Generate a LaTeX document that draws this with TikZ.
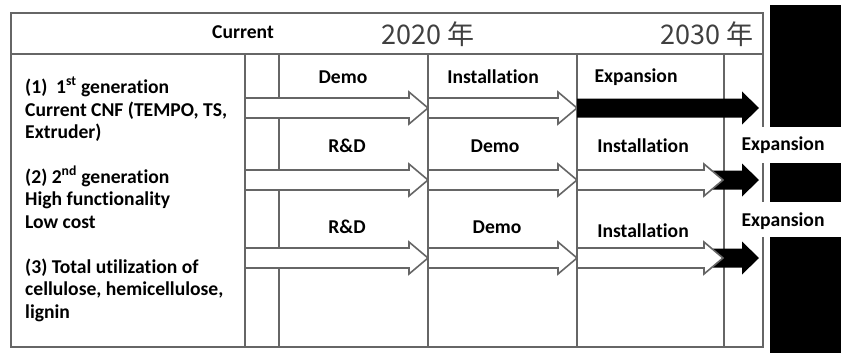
\documentclass[tikz,border=0pt]{standalone}
\usepackage{fontspec}
\setmainfont[Ligatures=NoCommon]{Carlito}
\newfontfamily\yearfont{Noto Sans CJK JP}

\tikzset{
  grid/.style={draw=black!60, line width=1.6pt},
  hollow/.style={draw=black!60, line width=1.6pt, fill=white, line join=miter},
  solid/.style={fill=black, draw=none},
  lbl/.style={font=\bfseries\fontsize{19.6}{22.5}\selectfont, inner sep=0pt},
  desc/.style={font=\bfseries\fontsize{19.6}{22.5}\selectfont, inner sep=0pt, anchor=base west},
  year/.style={font=\yearfont\fontsize{27}{30}\selectfont, text=black!75, inner sep=0pt},
  gap/.style={fill=white, draw=none},
}

% hollow arrow: start x, tip x, centre y
\newcommand{\hollowarr}[3]{%
  \draw[hollow] (#1,#3-10) -- (#2-19,#3-10) -- (#2-19,#3-16) -- (#2,#3)
    -- (#2-19,#3+16) -- (#2-19,#3+10) -- (#1,#3+10) -- cycle;}
% filled arrow: start x, tip x, centre y
\newcommand{\solidarr}[3]{%
  \fill[solid] (#1,#3-9.5) -- (#2-17,#3-9.5) -- (#2-17,#3-16.5) -- (#2,#3)
    -- (#2-17,#3+16.5) -- (#2-17,#3+9.5) -- (#1,#3+9.5) -- cycle;}

\begin{document}
\begin{tikzpicture}[x=1pt, y=-1pt]
\useasboundingbox (0,0) rectangle (841,353);

% frame, header rule and column rules
\draw[grid] (11,13) rectangle (763,347);
\draw[grid] (11,54) -- (763,54);
\foreach \cx in {245,279,428,577,724}
  \draw[grid] (\cx,54) -- (\cx,347);

% header texts
\node[lbl] (cur) at (243,32) {Current};
\node[year] (y2020) at (428,34) {2020 年};
\node[year] (y2030) at (707,34) {2030 年};

% black blocks on the right edge
\fill (770,5) rectangle (841,127);
\fill (770,163) rectangle (841,202);
\fill (770,237) rectangle (841,353);
% openings for the outer Expansion labels
\fill[gap] (735,127) rectangle (770,163);
\fill[gap] (735,202) rectangle (770,237);

% row 1
\hollowarr{245}{428}{108}
\hollowarr{428}{577}{108}
\solidarr{577}{759}{108}

% row 2
\solidarr{713}{759}{180}
\hollowarr{245}{428}{180}
\hollowarr{428}{577}{180}
\hollowarr{577}{723}{180}

% row 3
\solidarr{713}{759}{258}
\hollowarr{245}{428}{258}
\hollowarr{428}{577}{258}
\hollowarr{577}{723}{258}

% phase labels
\node[lbl] (r1a) at (343,77) {Demo};
\node[lbl] (r1b) at (493,77) {Installation};
\node[lbl] (r1c) at (636,77) {Expansion};

\node[lbl] (r2a) at (347,146) {R\&D};
\node[lbl] (r2b) at (495,146) {Demo};
\node[lbl] (r2c) at (643,146) {Installation};
\node[lbl] (r2d) at (783,145) {Expansion};

\node[lbl] (r3a) at (347,227) {R\&D};
\node[lbl] (r3b) at (497,227) {Demo};
\node[lbl] (r3c) at (643,231) {Installation};
\node[lbl] (r3d) at (783,221) {Expansion};

% description column
\node[desc] (d11) at (25,93) {(1)\ \ 1\textsuperscript{st} generation};
\node[desc] (d12) at (25,116) {Current CNF (TEMPO, TS,};
\node[desc] (d13) at (25,138) {Extruder)};

\node[desc] (d21) at (25,183) {(2) 2\textsuperscript{nd} generation};
\node[desc] (d22) at (25,205) {High functionality};
\node[desc] (d23) at (25,228) {Low cost};

\node[desc] (d31) at (25,273) {(3) Total utilization of};
\node[desc] (d32) at (25,295) {cellulose, hemicellulose,};
\node[desc] (d33) at (25,318) {lignin};
\end{tikzpicture}
\end{document}
